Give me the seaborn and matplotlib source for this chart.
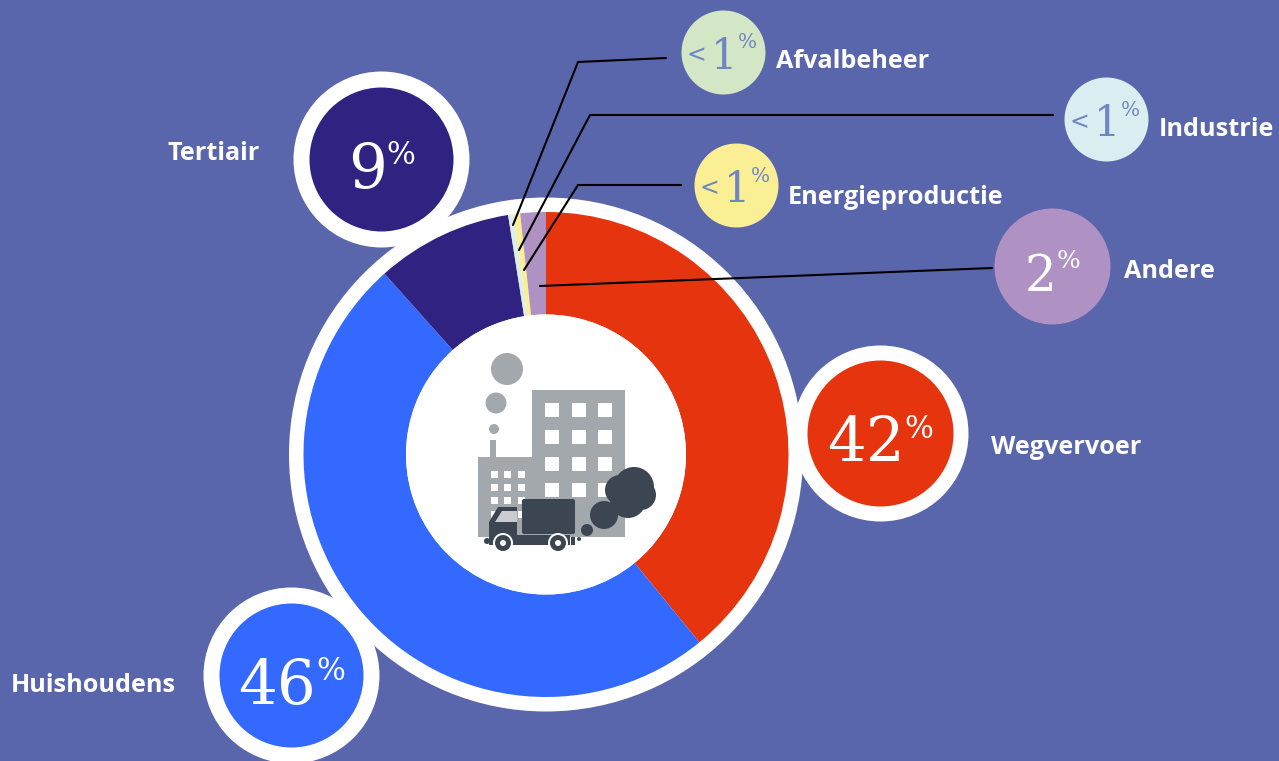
import matplotlib
matplotlib.use("Agg")
import matplotlib.pyplot as plt
from matplotlib.patches import Circle, Polygon, Rectangle, FancyBboxPatch
import seaborn as sns

# shares as drawn in the ring, clockwise from the top
sectors = ["Wegvervoer", "Huishoudens", "Tertiair", "Afvalbeheer", "Industrie", "Energieproductie", "Andere"]
shares = [39.1, 49.3, 9.1, 0.05, 0.3, 0.45, 1.7]
colors = ["#E6340E", "#3469FF", "#2F2280", "#D3E6C5", "#DAEDF0", "#FBEF95", "#AF91C3"]
value_labels = ["42", "46", "9", "1", "1", "1", "2"]

# layout in pixels of the picture
bubble_x = [880, 291, 381, 723, 1106, 736, 1052]
bubble_y = [433, 675, 159, 52, 119, 185, 266]
bubble_r = [73, 72, 72, 42, 42, 42, 58]
ring_r = [88, 88, 88, 0, 0, 0, 0]
label_x = [991, 11, 168, 776, 1159, 788, 1124]
label_y = [447, 686, 154, 62, 130, 197, 272]
text_size = [44, 44, 44, 30, 30, 30, 36]

leader_lines = [
    ([666, 578, 513], [58, 62, 225]),
    ([1053, 590, 519], [115, 115, 250]),
    ([681, 578, 524], [185, 185, 270]),
    ([992, 540], [268, 286]),
]

BG = "#5A66AB"
GREY = "#A3A8AD"
DARK = "#3B4652"
LOW = "#6F86C4"

sns.set_theme(style="white")
plt.rcParams["font.family"] = ["Open Sans", "DejaVu Sans"]

fig = plt.figure(figsize=(12.79, 7.61), dpi=100, facecolor=BG)
ax = fig.add_axes([0, 0, 1, 1])
ax.set_facecolor(BG)

cx, cy = 546, 454.5
ax.add_patch(Circle((cx, cy), 257, color="white", lw=0, zorder=1))
# picture y runs downwards, so clockwise on screen is counterclock here
wedges, _ = ax.pie(shares, colors=colors, center=(cx, cy), radius=242.5, startangle=-90,
                   counterclock=True, wedgeprops=dict(width=102.5, linewidth=0))
for w in wedges:
    w.set_zorder(2)
ax.add_patch(Circle((cx, cy), 140, color="white", lw=0, zorder=3))


def dot(x, y, r, c, z=5):
    ax.add_patch(Circle((x, y), r, color=c, lw=0, zorder=z))


def box(x0, y0, x1, y1, c, z=5):
    ax.add_patch(Rectangle((x0, y0), x1 - x0, y1 - y0, color=c, lw=0, zorder=z))


# icon in the middle: factory
for x, y, r in [(507, 369, 16), (496, 403, 10.5), (494, 429, 5)]:
    dot(x, y, r, GREY)
box(490, 440, 496, 458, GREY)
box(478, 457, 532, 537, GREY)
box(532, 390, 625, 537, GREY)
for y in [403, 430, 457, 483]:
    for x in [545, 572, 598]:
        box(x, y, x + 14, y + 14, "white", 6)
for y in [471, 484, 497, 511]:
    for x in [491, 504, 518]:
        box(x, y, x + 7, y + 7, "white", 6)
# truck
ax.add_patch(FancyBboxPatch((524, 501), 49, 31, boxstyle="round,pad=2", color=DARK, lw=0, zorder=7))
ax.add_patch(Polygon([(489, 538), (489, 522), (498, 507), (517, 507), (517, 538)], color=DARK, lw=0, zorder=7))
ax.add_patch(Polygon([(495, 522), (502, 511), (517, 511), (517, 522)], color="#C9CCD0", lw=0, zorder=8))
box(489, 535, 570, 545, DARK, 7)
for x in [503, 558]:
    dot(x, 543, 10, "white", 8)
    dot(x, 543, 8, DARK, 9)
    dot(x, 543, 3, "white", 10)
dot(487, 541, 3, DARK, 7)
box(571, 537, 575, 545, DARK, 7)
for x, y, r in [(579, 539, 2), (587, 530, 6), (604, 515, 14), (634, 487, 20), (628, 500, 18),
                (641, 495, 15), (620, 490, 15)]:
    dot(x, y, r, DARK, 7)

# leader lines
for xs, ys in leader_lines:
    ax.plot(xs, ys, color="black", lw=1.5, zorder=11, solid_joinstyle="miter")

# bubbles
for i, name in enumerate(sectors):
    bx, by, r = bubble_x[i], bubble_y[i], bubble_r[i]
    if ring_r[i]:
        sns.scatterplot(x=[bx], y=[by], s=(2 * ring_r[i] * 0.72) ** 2, color="white",
                        linewidth=0, ax=ax, zorder=12)
    sns.scatterplot(x=[bx], y=[by], s=(2 * r * 0.72) ** 2, color=colors[i],
                    linewidth=0, ax=ax, zorder=13)
    size = text_size[i]
    if value_labels[i] == "1":
        ax.text(bx - 27, by + 3, "<", color=LOW, fontsize=17, family="DejaVu Sans",
                ha="center", va="center", zorder=14)
        ax.text(bx + 14, by + 5, "1", color=LOW, fontsize=size, family="DejaVu Serif",
                ha="right", va="center", zorder=14)
        ax.text(bx + 14.5, by - 9, "%", color=LOW, fontsize=size * 0.48, family="DejaVu Serif",
                ha="left", va="center", zorder=14)
    else:
        width = len(value_labels[i]) * size * 0.44
        ax.text(bx - r * 0.19, by + 11, value_labels[i], color="white", fontsize=size,
                family="DejaVu Serif", ha="center", va="center", zorder=14)
        ax.text(bx - r * 0.19 + width, by - 4, "%", color="white", fontsize=size * 0.5,
                family="DejaVu Serif", ha="left", va="center", zorder=14)
    ax.text(label_x[i], label_y[i], name, color="white", fontsize=18.2, fontweight="bold",
            ha="left", va="center", zorder=14)

ax.set_xlim(0, 1279)
ax.set_ylim(761, 0)
ax.set_aspect("auto")
ax.axis("off")
fig.savefig("out.png", dpi=100, facecolor=BG)
